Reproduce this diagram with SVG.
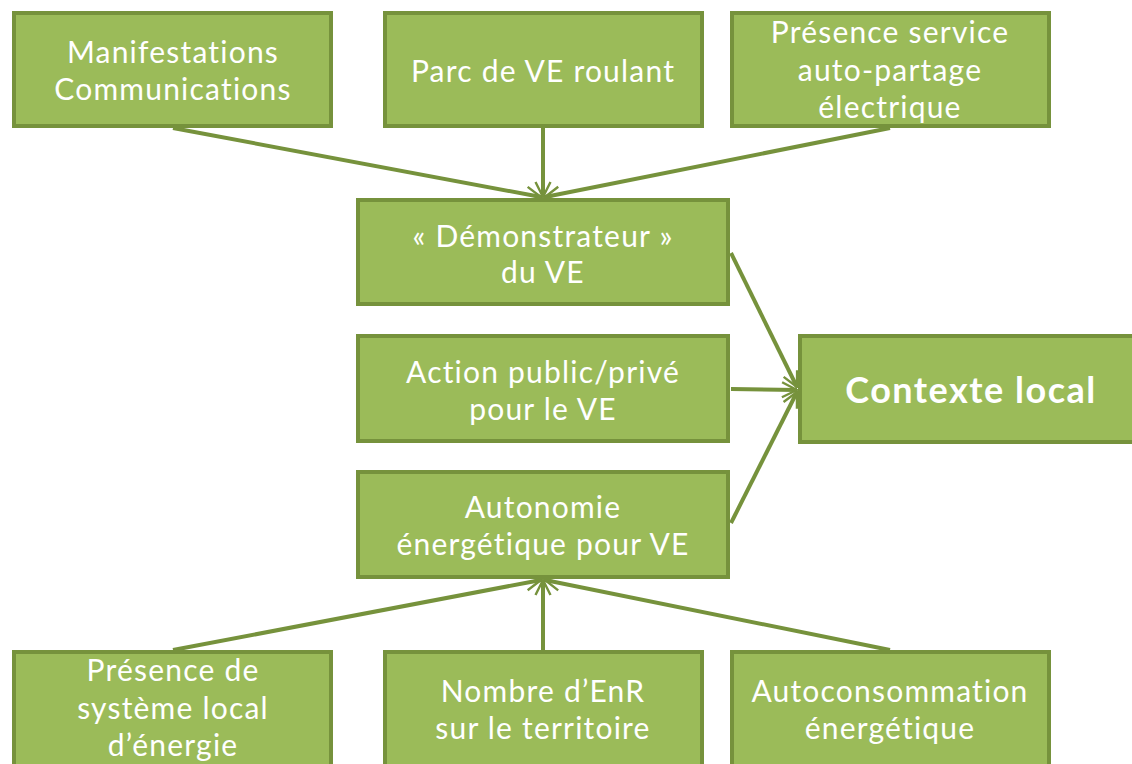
<svg xmlns="http://www.w3.org/2000/svg" width="1132" height="764" viewBox="0 0 1132 764">
<style>
.box{fill:#9BBB59;stroke:#76923C;stroke-width:4}
.t{font-family:Lato,"Open Sans",sans-serif;font-size:30px;letter-spacing:1.2px;fill:#fff;text-anchor:middle}
.b{font-weight:bold;font-size:36px;letter-spacing:1.5px}
.c{stroke:#76923C;stroke-width:4;fill:none}
</style>
<defs>
<marker id="ah" viewBox="0 0 12 12" refX="11" refY="6" markerWidth="4.5" markerHeight="4.5" markerUnits="strokeWidth" orient="auto">
<path d="M1,1 L11,6 L1,11" fill="none" stroke="#76923C" stroke-width="1.6"/>
</marker>
</defs>
<g id="connectors" class="c">
<line x1="173" y1="128" x2="541" y2="197" marker-end="url(#ah)"/>
<line x1="543" y1="128" x2="543" y2="197" marker-end="url(#ah)"/>
<line x1="890" y1="128" x2="545" y2="197" marker-end="url(#ah)"/>
<line x1="731" y1="253" x2="797" y2="387" marker-end="url(#ah)"/>
<line x1="731" y1="389" x2="797" y2="390" marker-end="url(#ah)"/>
<line x1="731" y1="523" x2="797" y2="392" marker-end="url(#ah)"/>
<line x1="173" y1="650" x2="541" y2="580" marker-end="url(#ah)"/>
<line x1="543" y1="650" x2="543" y2="580" marker-end="url(#ah)"/>
<line x1="890" y1="650" x2="545" y2="580" marker-end="url(#ah)"/>
</g>
<g id="n1"><rect class="box" x="14" y="13" width="317" height="113"/><text class="t" x="173" y="63">Manifestations</text><text class="t" x="173" y="100">Communications</text></g>
<g id="n2"><rect class="box" x="385" y="13" width="317" height="113"/><text class="t" x="543" y="82">Parc de VE roulant</text></g>
<g id="n3"><rect class="box" x="732" y="13" width="317" height="113"/><text class="t" x="890" y="43">Présence service</text><text class="t" x="890" y="81">auto-partage</text><text class="t" x="890" y="118">électrique</text></g>
<g id="n4"><rect class="box" x="358" y="200" width="370" height="104"/><text class="t" x="543" y="247">« Démonstrateur »</text><text class="t" x="543" y="283">du VE</text></g>
<g id="n5"><rect class="box" x="358" y="336" width="370" height="105"/><text class="t" x="543" y="383">Action public/privé</text><text class="t" x="543" y="420">pour le VE</text></g>
<g id="n6"><rect class="box" x="358" y="472" width="370" height="105"/><text class="t" x="543" y="518">Autonomie</text><text class="t" x="543" y="555">énergétique pour VE</text></g>
<g id="n7"><rect class="box" x="800" y="336" width="340" height="106"/><text class="t b" x="971" y="403">Contexte local</text></g>
<g id="n8"><rect class="box" x="14" y="652" width="317" height="120"/><text class="t" x="173" y="681">Présence de</text><text class="t" x="173" y="719">système local</text><text class="t" x="173" y="756">d’énergie</text></g>
<g id="n9"><rect class="box" x="385" y="652" width="317" height="120"/><text class="t" x="543" y="702">Nombre d’EnR</text><text class="t" x="543" y="739">sur le territoire</text></g>
<g id="n10"><rect class="box" x="732" y="652" width="317" height="120"/><text class="t" x="890" y="702">Autoconsommation</text><text class="t" x="890" y="739">énergétique</text></g>
</svg>
